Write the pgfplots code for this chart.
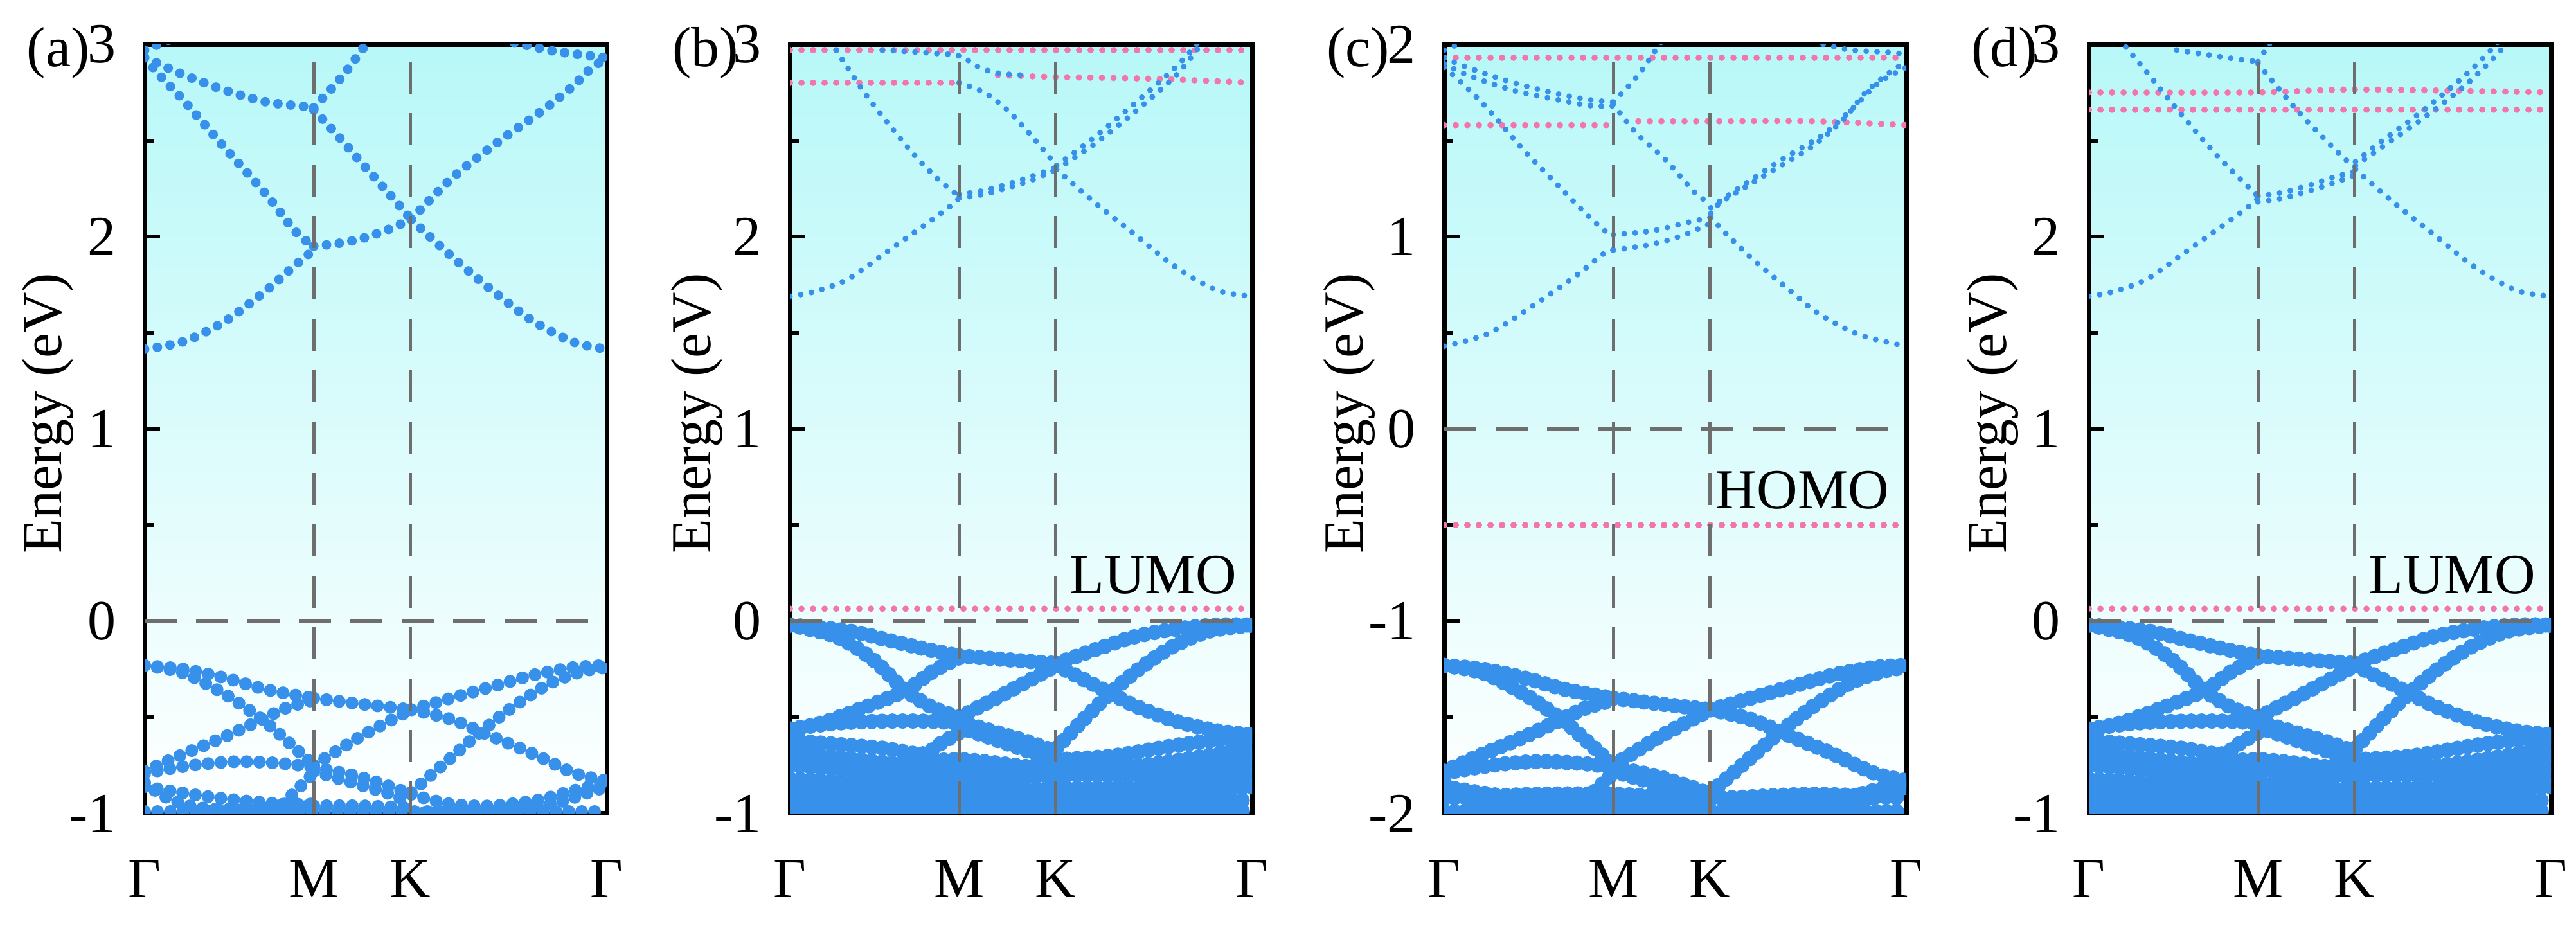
\documentclass[border=0pt]{standalone}
\usepackage{fontspec}
\setmainfont{Liberation Serif}
\newfontfamily\tnr{Liberation Serif}
\usepackage{pgfplots}
\pgfplotsset{compat=1.18}

\definecolor{bandblue}{RGB}{55,145,235}
\definecolor{flatpink}{RGB}{242,118,172}
\definecolor{bgcyan}{RGB}{184,248,248}
\definecolor{dashgray}{RGB}{110,110,110}
\newcommand{\fs}{\tnr\fontsize{8.8}{10}\selectfont}

\tikzset{gl/.style={dashgray, line width=0.5pt, dash pattern=on 5pt off 3pt}}

\pgfplotsset{
  bandpanel/.style={
    scale only axis, width=71.9pt, height=119.7pt, anchor=south west,
    font=\fs,
    xmin=0, xmax=1,
    xtick={0,0.366,0.575,1}, xticklabels={Γ,M,K,Γ},
    x tick style={draw=none},
    ytick pos=left, tick align=inside,
    minor y tick num=1,
    major tick length=2.4pt, minor tick length=1.4pt,
    y tick style={black, line width=0.6pt},
    axis line style={line width=0.7pt},
    xticklabel style={font=\fs, yshift=-3.8pt},
    yticklabel style={font=\fs, xshift=-0.9pt},
    axis background/.style={top color=bgcyan, bottom color=white},
  },
  cbA/.style={bandblue, line width=1.5pt, line cap=round, dash pattern=on 0pt off 2pt, smooth},
  vbA/.style={bandblue, line width=2.0pt, line cap=round, dash pattern=on 0pt off 2pt, smooth},
  cbB/.style={bandblue, line width=0.9pt, line cap=round, dash pattern=on 0pt off 1.7pt, smooth},
  vbB/.style={bandblue, line width=2.4pt, line cap=round, dash pattern=on 0pt off 1.6pt, smooth},
  pk/.style={flatpink, line width=1.0pt, line cap=round, dash pattern=on 0pt off 1.8pt, smooth},
}

\begin{document}
\begin{tikzpicture}
\useasboundingbox (0,0) rectangle (400.8pt,144.1pt);

% ---------------- (a)
\begin{axis}[bandpanel, name=pa, at={(22.5pt,17.5pt)},
  ymin=-1, ymax=3, ytick={-1,0,1,2,3}, yticklabels={-1,0,1,2,3}]
% conduction
\addplot[cbA] coordinates {(0,1.415) (0.085,1.455) (0.174,1.56) (0.263,1.72) (0.325,1.85) (0.366,1.93)};
\addplot[cbA] coordinates {(0.366,1.95) (0.42,1.965) (0.47,1.99) (0.52,2.03) (0.577,2.09)};
\addplot[cbA] coordinates {(0.577,2.09) (0.663,1.90) (0.752,1.72) (0.841,1.56) (0.93,1.45) (1,1.415)};
\addplot[cbA] coordinates {(0,2.93) (0.04,2.82) (0.08,2.72) (0.12,2.61) (0.174,2.46) (0.263,2.22) (0.325,2.03) (0.366,1.95)};
\addplot[cbA] coordinates {(0,2.93) (0.02,2.91) (0.086,2.84) (0.175,2.76) (0.264,2.70) (0.335,2.68) (0.366,2.67)};
\addplot[cbA] coordinates {(0.366,2.67) (0.423,2.82) (0.476,2.99) (0.49,3.04)};
\addplot[cbA] coordinates {(0.366,2.66) (0.42,2.52) (0.467,2.39) (0.53,2.22) (0.577,2.09)};
\addplot[cbA] coordinates {(0.577,2.09) (0.663,2.30) (0.752,2.47) (0.84,2.62) (0.885,2.70) (0.93,2.79) (0.964,2.87) (1,2.93)};
\addplot[cbA] coordinates {(0.80,3.01) (0.885,2.965) (0.964,2.94) (1,2.93)};
\addplot[cbA] coordinates {(0,2.97) (0.03,3.0) (0.06,3.03)};
% valence
\addplot[vbA] coordinates {(0,-0.23) (0.085,-0.25) (0.174,-0.295) (0.263,-0.355) (0.366,-0.40)};
\addplot[vbA] coordinates {(0.366,-0.40) (0.467,-0.43) (0.577,-0.46)};
\addplot[vbA] coordinates {(0.577,-0.46) (0.663,-0.40) (0.752,-0.34) (0.841,-0.28) (0.93,-0.24) (1,-0.23)};
\addplot[vbA] coordinates {(0,-0.23) (0.085,-0.27) (0.174,-0.38) (0.254,-0.51) (0.307,-0.62) (0.366,-0.75)};
\addplot[vbA] coordinates {(0,-0.78) (0.085,-0.69) (0.174,-0.60) (0.254,-0.51) (0.307,-0.45) (0.366,-0.41)};
\addplot[vbA] coordinates {(0.366,-0.75) (0.467,-0.60) (0.577,-0.46)};
\addplot[vbA] coordinates {(0.577,-0.46) (0.663,-0.51) (0.752,-0.60) (0.841,-0.69) (0.93,-0.79) (1,-0.83)};
\addplot[vbA] coordinates {(0.577,-0.89) (0.663,-0.71) (0.73,-0.57) (0.80,-0.44) (0.88,-0.32) (0.95,-0.26) (1,-0.24)};
\addplot[vbA] coordinates {(0,-0.79) (0.1,-0.75) (0.2,-0.73) (0.3,-0.74) (0.366,-0.76)};
\addplot[vbA] coordinates {(0.366,-0.76) (0.45,-0.80) (0.52,-0.85) (0.577,-0.90)};
\addplot[vbA] coordinates {(0.366,-0.78) (0.45,-0.84) (0.52,-0.89) (0.577,-0.94)};
\addplot[vbA] coordinates {(0,-0.84) (0.05,-0.92) (0.12,-0.97) (0.25,-0.98) (0.366,-0.96)};
\addplot[vbA] coordinates {(0.366,-0.96) (0.47,-0.96) (0.577,-0.97)};
\addplot[vbA] coordinates {(0.28,-1.0) (0.32,-0.90) (0.366,-0.79)};
\addplot[vbA] coordinates {(0.577,-0.90) (0.66,-0.95) (0.75,-0.96) (0.85,-0.93) (0.93,-0.88) (1,-0.84)};
\addplot[vbA] coordinates {(0.60,-1.0) (0.75,-0.98) (0.88,-0.95) (0.95,-0.90) (1,-0.86)};
\addplot[vbA] coordinates {(0,-0.99) (0.3,-0.99) (0.6,-0.99) (1,-0.99)};
\addplot[vbA] coordinates {(0,-0.86) (0.1,-0.90) (0.2,-0.93) (0.3,-0.95) (0.366,-0.95)};
\draw[gl] (axis cs:0.366,-1) -- (axis cs:0.366,3);
\draw[gl] (axis cs:0.575,-1) -- (axis cs:0.575,3);
\draw[gl] (axis cs:0,0) -- (axis cs:1,0);
\end{axis}
\node[anchor=base west, inner sep=0pt, font=\fs] at ([xshift=-18.5pt, yshift=-3.4pt]pa.north west) {(a)};
\node[rotate=90, inner sep=0pt, font=\fs] at ([xshift=-15.1pt, yshift=2.4pt]pa.west) {Energy (eV)};

% ---------------- (b)
\begin{axis}[bandpanel, name=pb, at={(122.9pt,17.5pt)},
  ymin=-1, ymax=3, ytick={-1,0,1,2,3}, yticklabels={-1,0,1,2,3}]
\addplot[pk] coordinates {(0,2.97) (0.5,2.97) (1,2.97)};
\addplot[pk] coordinates {(0,2.80) (0.2,2.80) (0.366,2.80)};
\addplot[pk] coordinates {(0.45,2.84) (0.577,2.83) (0.8,2.82) (1,2.80)};
\addplot[pk] coordinates {(0,0.065) (0.5,0.065) (1,0.065)};
% conduction
\addplot[cbB] coordinates {(0,1.69) (0.055,1.715) (0.126,1.78) (0.215,1.93) (0.303,2.08) (0.348,2.16) (0.366,2.20)};
\addplot[cbB] coordinates {(0.366,2.20) (0.42,2.22) (0.48,2.26) (0.53,2.30) (0.577,2.35)};
\addplot[cbB] coordinates {(0.366,2.22) (0.42,2.24) (0.48,2.28) (0.53,2.32) (0.577,2.36)};
\addplot[cbB] coordinates {(0.577,2.35) (0.658,2.18) (0.747,2.01) (0.836,1.84) (0.925,1.72) (1,1.69)};
\addplot[cbB] coordinates {(0.577,2.35) (0.658,2.48) (0.747,2.65) (0.836,2.84) (0.89,3.0) (0.91,3.06)};
\addplot[cbB] coordinates {(0.577,2.37) (0.65,2.50) (0.74,2.68) (0.83,2.87) (0.88,3.0) (0.89,3.04)};
\addplot[cbB] coordinates {(0.09,3.02) (0.108,2.94) (0.17,2.72) (0.26,2.45) (0.32,2.30) (0.366,2.21)};
\addplot[cbB] coordinates {(0.2,2.97) (0.3,2.955) (0.366,2.94) (0.41,2.88) (0.45,2.85) (0.5,2.84)};
\addplot[cbB] coordinates {(0.366,2.80) (0.42,2.75) (0.47,2.66) (0.517,2.54) (0.577,2.37)};
% valence
\addplot[vbB] coordinates {(0,-0.02) (0.126,-0.05) (0.215,-0.10) (0.303,-0.15) (0.366,-0.18)};
\addplot[vbB] coordinates {(0.366,-0.18) (0.47,-0.20) (0.577,-0.22)};
\addplot[vbB] coordinates {(0.577,-0.22) (0.658,-0.15) (0.747,-0.08) (0.836,-0.04) (0.925,-0.02) (1,-0.02)};
\addplot[vbB] coordinates {(0,-0.02) (0.1,-0.08) (0.18,-0.20) (0.25,-0.36) (0.31,-0.45) (0.366,-0.50)};
\addplot[vbB] coordinates {(0,-0.57) (0.08,-0.52) (0.17,-0.44) (0.25,-0.36) (0.31,-0.26) (0.366,-0.19)};
\addplot[vbB] coordinates {(0.366,-0.50) (0.47,-0.37) (0.577,-0.23)};
\addplot[vbB] coordinates {(0.577,-0.23) (0.658,-0.33) (0.747,-0.44) (0.836,-0.52) (0.925,-0.57) (1,-0.59)};
\addplot[vbB] coordinates {(0.577,-0.66) (0.64,-0.50) (0.70,-0.36) (0.76,-0.24) (0.83,-0.13) (0.91,-0.05) (1,-0.02)};
\addplot[vbB] coordinates {(0,-0.56) (0.1,-0.53) (0.2,-0.52) (0.3,-0.52) (0.366,-0.53)};
\addplot[vbB] coordinates {(0.366,-0.52) (0.45,-0.58) (0.52,-0.63) (0.577,-0.68)};
\addplot[vbB] coordinates {(0.366,-0.55) (0.45,-0.62) (0.52,-0.68) (0.577,-0.73)};
\addplot[vbB] coordinates {(0.577,-0.72) (0.7,-0.70) (0.85,-0.64) (1,-0.60)};
\addplot[vbB] coordinates {(0,-0.62) (0.1,-0.64) (0.2,-0.66) (0.287,-0.69) (0.33,-0.63) (0.366,-0.58)};
\addplot[vbB] coordinates {(0,-0.68) (0.15,-0.72) (0.3,-0.76) (0.366,-0.78) (0.47,-0.77) (0.577,-0.74) (0.75,-0.75) (0.9,-0.70) (1,-0.66)};
\addplot[vbB] coordinates {(0,-0.72) (0.2,-0.75) (0.366,-0.72) (0.577,-0.77) (0.8,-0.77) (1,-0.70)};
\addplot[vbB] coordinates {(0,-0.75) (0.2,-0.79) (0.366,-0.84) (0.47,-0.83) (0.577,-0.80) (0.8,-0.80) (1,-0.74)};
\addplot[vbB] coordinates {(0,-0.82) (0.2,-0.85) (0.366,-0.89) (0.577,-0.87) (0.8,-0.86) (1,-0.80)};
\addplot[vbB] coordinates {(0,-0.88) (0.2,-0.91) (0.366,-0.93) (0.577,-0.93) (0.8,-0.91) (1,-0.86)};
\addplot[vbB] coordinates {(0,-0.94) (0.2,-0.95) (0.366,-0.97) (0.577,-0.96) (0.8,-0.95) (1,-0.93)};
\addplot[vbB] coordinates {(0,-0.99) (0.1,-0.98) (0.2,-0.93) (0.3,-0.89) (0.366,-0.88)};
\addplot[vbB] coordinates {(0,-0.99) (0.5,-0.97) (1,-0.99)};
\addplot[vbB] coordinates {(0.45,-1.0) (0.52,-0.93) (0.577,-0.86) (0.66,-0.92) (0.75,-0.97) (0.85,-1.0)};
\draw[gl] (axis cs:0.366,-1) -- (axis cs:0.366,3);
\draw[gl] (axis cs:0.575,-1) -- (axis cs:0.575,3);
\draw[gl] (axis cs:0,0) -- (axis cs:1,0);
\node[anchor=base east, inner sep=0pt, font=\fs] at (axis cs:0.969,0.143) {LUMO};
\end{axis}
\node[anchor=base west, inner sep=0pt, font=\fs] at ([xshift=-18.5pt, yshift=-3.4pt]pb.north west) {(b)};
\node[rotate=90, inner sep=0pt, font=\fs] at ([xshift=-14.5pt, yshift=2.4pt]pb.west) {Energy (eV)};

% ---------------- (c)
\begin{axis}[bandpanel, name=pc, at={(224.7pt,17.5pt)},
  ymin=-2, ymax=2, ytick={-2,-1,0,1,2}, yticklabels={-2,-1,0,1,2}]
\addplot[pk] coordinates {(0,1.93) (0.5,1.93) (1,1.93)};
\addplot[pk] coordinates {(0,1.58) (0.2,1.58) (0.366,1.58)};
\addplot[pk] coordinates {(0.42,1.60) (0.577,1.60) (0.8,1.60) (1,1.58)};
\addplot[pk] coordinates {(0,-0.50) (0.5,-0.50) (1,-0.50)};
% conduction
\addplot[cbB] coordinates {(0,0.43) (0.099,0.50) (0.21,0.67) (0.287,0.80) (0.348,0.917) (0.366,0.93)};
\addplot[cbB] coordinates {(0.366,0.93) (0.45,0.96) (0.52,1.01) (0.577,1.07)};
\addplot[cbB] coordinates {(0.366,1.01) (0.45,1.03) (0.52,1.07) (0.577,1.10)};
\addplot[cbB] coordinates {(0.577,1.10) (0.60,1.04) (0.664,0.89) (0.753,0.71) (0.81,0.60) (0.898,0.49) (1,0.43)};
\addplot[cbB] coordinates {(0.577,1.12) (0.60,1.18) (0.708,1.34) (0.797,1.47) (0.864,1.61) (0.912,1.75) (0.973,1.87) (1,1.90)};
\addplot[cbB] coordinates {(0.577,1.15) (0.63,1.24) (0.73,1.40) (0.82,1.53) (0.885,1.67) (0.94,1.80) (1,1.88)};
\addplot[cbB] coordinates {(0,1.88) (0.038,1.80) (0.096,1.66) (0.172,1.45) (0.249,1.26) (0.306,1.12) (0.348,1.03) (0.366,1.01)};
\addplot[cbB] coordinates {(0,1.93) (0.05,1.88) (0.15,1.80) (0.25,1.74) (0.32,1.71) (0.366,1.70)};
\addplot[cbB] coordinates {(0,1.90) (0.05,1.84) (0.15,1.76) (0.25,1.71) (0.32,1.68) (0.366,1.68)};
\addplot[cbB] coordinates {(0.366,1.69) (0.415,1.54) (0.479,1.40) (0.542,1.23) (0.577,1.17)};
\addplot[cbB] coordinates {(0.366,1.70) (0.42,1.84) (0.466,2.0) (0.48,2.04)};
\addplot[cbB] coordinates {(0.82,2.0) (0.88,1.97) (0.95,1.96) (1,1.95)};
\addplot[cbB] coordinates {(0,1.97) (0.03,2.0) (0.05,2.03)};
% valence
\addplot[vbB] coordinates {(0,-1.23) (0.085,-1.25) (0.174,-1.295) (0.263,-1.355) (0.366,-1.40)};
\addplot[vbB] coordinates {(0.366,-1.40) (0.467,-1.43) (0.577,-1.46)};
\addplot[vbB] coordinates {(0.577,-1.46) (0.663,-1.40) (0.752,-1.34) (0.841,-1.28) (0.93,-1.24) (1,-1.23)};
\addplot[vbB] coordinates {(0,-1.23) (0.085,-1.27) (0.174,-1.38) (0.254,-1.51) (0.307,-1.62) (0.366,-1.75)};
\addplot[vbB] coordinates {(0,-1.78) (0.085,-1.69) (0.174,-1.60) (0.254,-1.51) (0.307,-1.45) (0.366,-1.41)};
\addplot[vbB] coordinates {(0.366,-1.75) (0.467,-1.60) (0.577,-1.46)};
\addplot[vbB] coordinates {(0.577,-1.46) (0.663,-1.51) (0.752,-1.60) (0.841,-1.69) (0.93,-1.79) (1,-1.83)};
\addplot[vbB] coordinates {(0.577,-1.89) (0.663,-1.71) (0.73,-1.57) (0.80,-1.44) (0.88,-1.32) (0.95,-1.26) (1,-1.24)};
\addplot[vbB] coordinates {(0,-1.79) (0.1,-1.75) (0.2,-1.73) (0.3,-1.74) (0.366,-1.76)};
\addplot[vbB] coordinates {(0.366,-1.76) (0.45,-1.80) (0.52,-1.85) (0.577,-1.90)};
\addplot[vbB] coordinates {(0.366,-1.78) (0.45,-1.84) (0.52,-1.89) (0.577,-1.94)};
\addplot[vbB] coordinates {(0,-1.84) (0.05,-1.92) (0.12,-1.97) (0.25,-1.98) (0.366,-1.96)};
\addplot[vbB] coordinates {(0.366,-1.96) (0.47,-1.96) (0.577,-1.97)};
\addplot[vbB] coordinates {(0.28,-2.0) (0.32,-1.90) (0.366,-1.79)};
\addplot[vbB] coordinates {(0.577,-1.90) (0.66,-1.95) (0.75,-1.96) (0.85,-1.93) (0.93,-1.88) (1,-1.84)};
\addplot[vbB] coordinates {(0.60,-2.0) (0.75,-1.98) (0.88,-1.95) (0.95,-1.90) (1,-1.86)};
\addplot[vbB] coordinates {(0,-1.99) (0.3,-1.99) (0.6,-1.99) (1,-1.99)};
\addplot[vbB] coordinates {(0,-1.86) (0.1,-1.90) (0.2,-1.93) (0.3,-1.95) (0.366,-1.95)};
\addplot[vbB] coordinates {(0,-1.92) (0.2,-1.90) (0.366,-1.90) (0.577,-1.92) (0.8,-1.90) (1,-1.92)};
\draw[gl] (axis cs:0.366,-2) -- (axis cs:0.366,2);
\draw[gl] (axis cs:0.575,-2) -- (axis cs:0.575,2);
\draw[gl] (axis cs:0,0) -- (axis cs:1,0);
\node[anchor=base east, inner sep=0pt, font=\fs] at (axis cs:0.965,-0.416) {HOMO};
\end{axis}
\node[anchor=base west, inner sep=0pt, font=\fs] at ([xshift=-18.5pt, yshift=-3.4pt]pc.north west) {(c)};
\node[rotate=90, inner sep=0pt, font=\fs] at ([xshift=-14.8pt, yshift=2.4pt]pc.west) {Energy (eV)};

% ---------------- (d)
\begin{axis}[bandpanel, name=pd, at={(325.0pt,17.5pt)},
  ymin=-1, ymax=3, ytick={-1,0,1,2,3}, yticklabels={-1,0,1,2,3}]
\addplot[pk] coordinates {(0,2.75) (0.366,2.75) (0.577,2.765) (1,2.75)};
\addplot[pk] coordinates {(0,2.66) (0.5,2.66) (1,2.66)};
\addplot[pk] coordinates {(0,0.065) (0.5,0.065) (1,0.065)};
% conduction
\addplot[cbB] coordinates {(0,1.69) (0.055,1.715) (0.126,1.78) (0.215,1.93) (0.303,2.08) (0.348,2.16) (0.366,2.20)};
\addplot[cbB] coordinates {(0.366,2.21) (0.42,2.23) (0.48,2.27) (0.53,2.31) (0.577,2.34)};
\addplot[cbB] coordinates {(0.366,2.18) (0.42,2.20) (0.48,2.24) (0.53,2.28) (0.577,2.32)};
\addplot[cbB] coordinates {(0.577,2.35) (0.658,2.18) (0.747,2.01) (0.836,1.84) (0.925,1.72) (1,1.69)};
\addplot[cbB] coordinates {(0.577,2.37) (0.637,2.47) (0.726,2.62) (0.816,2.79) (0.888,2.96) (0.91,3.04)};
\addplot[cbB] coordinates {(0.577,2.39) (0.63,2.49) (0.72,2.65) (0.81,2.83) (0.87,2.97) (0.89,3.03)};
\addplot[cbB] coordinates {(0.065,3.03) (0.075,3.0) (0.117,2.88) (0.188,2.67) (0.278,2.42) (0.366,2.21)};
\addplot[cbB] coordinates {(0.19,2.97) (0.3,2.93) (0.366,2.91)};
\addplot[cbB] coordinates {(0.366,2.90) (0.457,2.64) (0.547,2.42) (0.577,2.36)};
\addplot[cbB] coordinates {(0.366,2.91) (0.39,3.0) (0.40,3.04)};
% valence
\addplot[vbB] coordinates {(0,-0.02) (0.126,-0.05) (0.215,-0.10) (0.303,-0.15) (0.366,-0.18)};
\addplot[vbB] coordinates {(0.366,-0.18) (0.47,-0.20) (0.577,-0.22)};
\addplot[vbB] coordinates {(0.577,-0.22) (0.658,-0.15) (0.747,-0.08) (0.836,-0.04) (0.925,-0.02) (1,-0.02)};
\addplot[vbB] coordinates {(0,-0.02) (0.1,-0.08) (0.18,-0.20) (0.25,-0.36) (0.31,-0.45) (0.366,-0.50)};
\addplot[vbB] coordinates {(0,-0.57) (0.08,-0.52) (0.17,-0.44) (0.25,-0.36) (0.31,-0.26) (0.366,-0.19)};
\addplot[vbB] coordinates {(0.366,-0.50) (0.47,-0.37) (0.577,-0.23)};
\addplot[vbB] coordinates {(0.577,-0.23) (0.658,-0.33) (0.747,-0.44) (0.836,-0.52) (0.925,-0.57) (1,-0.59)};
\addplot[vbB] coordinates {(0.577,-0.66) (0.64,-0.50) (0.70,-0.36) (0.76,-0.24) (0.83,-0.13) (0.91,-0.05) (1,-0.02)};
\addplot[vbB] coordinates {(0,-0.56) (0.1,-0.53) (0.2,-0.52) (0.3,-0.52) (0.366,-0.53)};
\addplot[vbB] coordinates {(0.366,-0.52) (0.45,-0.58) (0.52,-0.63) (0.577,-0.68)};
\addplot[vbB] coordinates {(0.366,-0.55) (0.45,-0.62) (0.52,-0.68) (0.577,-0.73)};
\addplot[vbB] coordinates {(0.577,-0.72) (0.7,-0.70) (0.85,-0.64) (1,-0.60)};
\addplot[vbB] coordinates {(0,-0.62) (0.1,-0.64) (0.2,-0.66) (0.287,-0.69) (0.33,-0.63) (0.366,-0.58)};
\addplot[vbB] coordinates {(0,-0.68) (0.15,-0.72) (0.3,-0.76) (0.366,-0.78) (0.47,-0.77) (0.577,-0.74) (0.75,-0.75) (0.9,-0.70) (1,-0.66)};
\addplot[vbB] coordinates {(0,-0.72) (0.2,-0.75) (0.366,-0.72) (0.577,-0.77) (0.8,-0.77) (1,-0.70)};
\addplot[vbB] coordinates {(0,-0.75) (0.2,-0.79) (0.366,-0.84) (0.47,-0.83) (0.577,-0.80) (0.8,-0.80) (1,-0.74)};
\addplot[vbB] coordinates {(0,-0.82) (0.2,-0.85) (0.366,-0.89) (0.577,-0.87) (0.8,-0.86) (1,-0.80)};
\addplot[vbB] coordinates {(0,-0.88) (0.2,-0.91) (0.366,-0.93) (0.577,-0.93) (0.8,-0.91) (1,-0.86)};
\addplot[vbB] coordinates {(0,-0.94) (0.2,-0.95) (0.366,-0.97) (0.577,-0.96) (0.8,-0.95) (1,-0.93)};
\addplot[vbB] coordinates {(0,-0.99) (0.1,-0.98) (0.2,-0.93) (0.3,-0.89) (0.366,-0.88)};
\addplot[vbB] coordinates {(0,-0.99) (0.5,-0.97) (1,-0.99)};
\addplot[vbB] coordinates {(0.45,-1.0) (0.52,-0.93) (0.577,-0.86) (0.66,-0.92) (0.75,-0.97) (0.85,-1.0)};
\draw[gl] (axis cs:0.366,-1) -- (axis cs:0.366,3);
\draw[gl] (axis cs:0.575,-1) -- (axis cs:0.575,3);
\draw[gl] (axis cs:0,0) -- (axis cs:1,0);
\node[anchor=base east, inner sep=0pt, font=\fs] at (axis cs:0.969,0.143) {LUMO};
\end{axis}
\node[anchor=base west, inner sep=0pt, font=\fs] at ([xshift=-18.5pt, yshift=-3.4pt]pd.north west) {(d)};
\node[rotate=90, inner sep=0pt, font=\fs] at ([xshift=-15.0pt, yshift=2.4pt]pd.west) {Energy (eV)};
\end{tikzpicture}
\end{document}
